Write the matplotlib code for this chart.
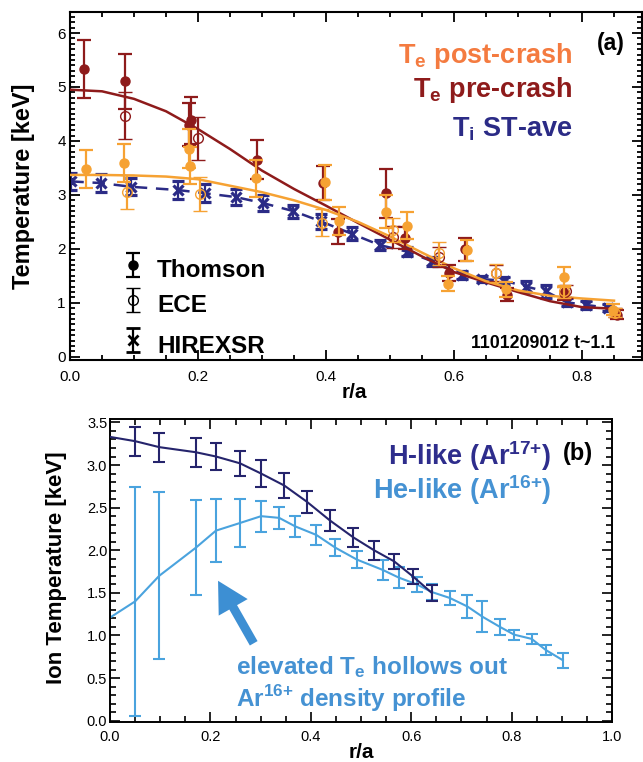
import numpy as np
import matplotlib
matplotlib.use('Agg')
import matplotlib.pyplot as plt
from matplotlib.ticker import MultipleLocator

plt.rcParams['font.family'] = ['Liberation Sans', 'DejaVu Sans']
plt.rcParams['mathtext.fontset'] = 'custom'
plt.rcParams['mathtext.rm'] = 'Liberation Sans'
plt.rcParams['mathtext.bf'] = 'Liberation Sans:bold'

###############################################################
#   (a) perfiles de temperatura, shot 1101209012
###############################################################

# ajuste Te (pre / post crash)
r_fit = [0.0, 0.05, 0.10, 0.15, 0.20, 0.25, 0.30, 0.35, 0.40, 0.45,
         0.50, 0.55, 0.60, 0.65, 0.70, 0.75, 0.80, 0.85]
te_pre_fit = [4.95, 4.92, 4.78, 4.55, 4.22, 3.85, 3.45, 3.11, 2.80, 2.48,
              2.17, 1.86, 1.57, 1.38, 1.20, 1.03, 0.92, 0.89]
te_post_fit = [3.37, 3.37, 3.36, 3.34, 3.29, 3.17, 3.05, 2.90, 2.72, 2.50,
               2.23, 1.93, 1.64, 1.40, 1.23, 1.13, 1.08, 1.04]

# Thomson pre-crash
ts_pre_r = [0.022, 0.086, 0.186, 0.189, 0.292, 0.396, 0.418, 0.494, 0.524,
            0.592, 0.617, 0.683, 0.772, 0.854]
ts_pre_t = [5.33, 5.11, 4.30, 4.38, 3.65, 3.22, 2.32, 3.03, 2.20,
            1.55, 1.99, 1.15, 1.18, 0.78]
ts_pre_e = [0.54, 0.51, 0.40, 0.44, 0.36, 0.31, 0.23, 0.45, 0.20,
            0.15, 0.21, 0.12, 0.12, 0.08]

# ECE pre-crash
ece_pre_r = [0.086, 0.1995, 0.504, 0.577, 0.666, 0.775, 0.852]
ece_pre_t = [4.47, 4.05, 2.22, 1.85, 1.55, 1.21, 0.82]
ece_pre_e = [0.44, 0.40, 0.20, 0.18, 0.15, 0.12, 0.08]

# Thomson post-crash
ts_post_r = [0.0245, 0.085, 0.1865, 0.188, 0.291, 0.399, 0.421, 0.494,
             0.526, 0.590, 0.620, 0.682, 0.772, 0.848]
ts_post_t = [3.48, 3.59, 3.86, 3.54, 3.31, 3.23, 2.51, 2.69,
             2.43, 1.35, 1.97, 1.25, 1.48, 0.87]
ts_post_e = [0.35, 0.35, 0.37, 0.34, 0.34, 0.32, 0.26, 0.30,
             0.25, 0.14, 0.20, 0.14, 0.19, 0.10]

# ECE post-crash
ece_post_r = [0.0895, 0.203, 0.393, 0.504, 0.577, 0.666, 0.772, 0.851]
ece_post_t = [3.05, 3.02, 2.48, 2.35, 1.92, 1.55, 1.21, 0.82]
ece_post_e = [0.31, 0.31, 0.25, 0.22, 0.21, 0.17, 0.12, 0.09]

# Ti HIREXSR (promedio ST)
ti_r = [0.002, 0.048, 0.096, 0.169, 0.211, 0.259, 0.301, 0.349, 0.392,
        0.440, 0.484, 0.526, 0.566, 0.613, 0.643, 0.678, 0.713, 0.744,
        0.776, 0.806, 0.840]
ti_t = [3.25, 3.22, 3.15, 3.09, 3.03, 2.96, 2.85, 2.70, 2.51,
        2.28, 2.07, 1.95, 1.77, 1.52, 1.44, 1.41, 1.30, 1.21,
        1.01, 0.96, 0.91]
ti_e = [0.15, 0.17, 0.16, 0.17, 0.17, 0.15, 0.14, 0.12, 0.14,
        0.12, 0.10, 0.08, 0.08, 0.07, 0.06, 0.07, 0.10, 0.12,
        0.07, 0.07, 0.06]

###############################################################
#   (b) Ti de H-like y He-like
###############################################################

# primer punto = valor en el eje (sin barra de error)
h_r = [0.0, 0.050, 0.098, 0.171, 0.211, 0.259, 0.301, 0.347, 0.392,
       0.438, 0.485, 0.526, 0.566, 0.604, 0.641]
h_t = [3.33, 3.28, 3.21, 3.15, 3.10, 3.02, 2.90, 2.76, 2.57,
       2.35, 2.15, 2.00, 1.87, 1.69, 1.50]
h_e = [0.17, 0.17, 0.17, 0.16, 0.15, 0.16, 0.15, 0.13,
       0.12, 0.11, 0.11, 0.09, 0.09, 0.09]

he_r = [0.0, 0.050, 0.098, 0.171, 0.211, 0.259, 0.301, 0.337, 0.369,
        0.411, 0.449, 0.492, 0.543, 0.575, 0.611, 0.641, 0.677, 0.712,
        0.742, 0.777, 0.805, 0.840, 0.868, 0.902]
he_t = [1.21, 1.40, 1.70, 2.03, 2.23, 2.32, 2.40, 2.38, 2.28,
        2.18, 2.03, 1.89, 1.77, 1.68, 1.60, 1.51, 1.44, 1.34,
        1.22, 1.10, 1.01, 0.96, 0.83, 0.71]
he_e = [1.34, 0.98, 0.56, 0.37, 0.28, 0.18, 0.13, 0.12,
        0.12, 0.10, 0.10, 0.12, 0.12, 0.09, 0.09, 0.08, 0.14,
        0.18, 0.09, 0.06, 0.055, 0.06, 0.09]

c_pre = '#8e1b1b'
c_post = '#f6a233'
c_post_txt = '#f47b40'
c_ti = '#2b2b86'
c_h = '#25246c'
c_h_txt = '#2e2d8c'
c_he = '#4aa3de'
c_he_txt = '#4592d3'

fig = plt.figure(figsize=(6.43, 7.62), dpi=100)
ax1 = fig.add_axes([70/643, 1 - 360/762, 572/643, 348/762])
ax2 = fig.add_axes([110/643, 1 - 722/762, 502/643, 303/762])

eb = dict(capsize=5, capthick=1.6, elinewidth=1.6, linestyle='none')

# ---- panel (a)
ax1.plot(r_fit, te_pre_fit, color=c_pre, lw=1.8, zorder=3)
ax1.plot(r_fit, te_post_fit, color=c_post, lw=1.8, zorder=3)
ax1.errorbar(ti_r, ti_t, yerr=ti_e, color=c_ti, marker='x', ms=7.5, mew=2.3,
             capsize=4.5, capthick=1.6, elinewidth=1.6, ls=(0, (5, 3.5)), lw=1.8, zorder=2)
ax1.errorbar(ece_pre_r, ece_pre_t, yerr=ece_pre_e, color=c_pre, marker='o', ms=7,
             mfc='none', mew=1.0, zorder=4, **eb)
ax1.errorbar(ts_pre_r, ts_pre_t, yerr=ts_pre_e, color=c_pre, marker='o', ms=6.5,
             zorder=4, **eb)
ax1.errorbar(ece_post_r, ece_post_t, yerr=ece_post_e, color=c_post, marker='o', ms=7,
             mfc='none', mew=1.0, zorder=5, **eb)
ax1.errorbar(ts_post_r, ts_post_t, yerr=ts_post_e, color=c_post, marker='o', ms=6.5,
             zorder=5, **eb)

ax1.set_xlim(0, 572/640)
ax1.set_ylim(-0.06, 6.39)
ax1.xaxis.set_major_locator(MultipleLocator(0.2))
ax1.xaxis.set_minor_locator(MultipleLocator(0.05))
ax1.yaxis.set_major_locator(MultipleLocator(1))
ax1.yaxis.set_minor_locator(MultipleLocator(0.1))
ax1.tick_params(which='both', direction='in', top=True, right=True, width=1.3)
ax1.tick_params(which='major', length=7)
ax1.tick_params(which='minor', length=3.5)
ax1.tick_params(axis='x', labelsize=11, pad=7)
ax1.tick_params(axis='y', labelsize=11, pad=3)
ax1.xaxis.set_major_formatter(plt.FormatStrFormatter('%.1f'))
for s in ax1.spines.values():
    s.set_linewidth(1.5)
ax1.set_xlabel('r/a', fontsize=15, fontweight='bold')
ax1.xaxis.set_label_coords(0.498, -0.066)
ax1.set_ylabel('Temperature [keV]', fontsize=17, fontweight='bold')
ax1.yaxis.set_label_coords(-0.061, 0.5)

ax1.text(0.97, 0.891, '(a)', transform=ax1.transAxes, ha='right', va='baseline',
         fontsize=16.5, fontweight='bold')
ax1.text(0.879, 0.853, r'$\mathbf{T_e}$ post-crash', transform=ax1.transAxes,
         ha='right', va='baseline', fontsize=19.5, fontweight='bold', color=c_post_txt)
ax1.text(0.879, 0.755, r'$\mathbf{T_e}$ pre-crash', transform=ax1.transAxes,
         ha='right', va='baseline', fontsize=19.5, fontweight='bold', color=c_pre)
ax1.text(0.879, 0.642, r'$\mathbf{T_i}$ ST-ave', transform=ax1.transAxes,
         ha='right', va='baseline', fontsize=19.5, fontweight='bold', color=c_ti)

# leyenda de diagnosticos
diag_names = ['Thomson', 'ECE', 'HIREXSR']
diag_y = [0.273, 0.172, 0.057]
diag_txt_y = [0.239, 0.139, 0.020]
diag_style = [dict(marker='o', ms=6.5), dict(marker='o', ms=7, mfc='none', mew=1.0),
              dict(marker='x', ms=6.5, mew=2.0)]
for name, yy, ty, st in zip(diag_names, diag_y, diag_txt_y, diag_style):
    ax1.errorbar([0.110], [yy], yerr=[0.034], color='k', transform=ax1.transAxes,
                 capsize=5, capthick=1.6, elinewidth=1.6, ls='none', **st)
    ax1.text(0.152, ty, name, transform=ax1.transAxes, fontsize=17.5,
             fontweight='bold', va='baseline')

ax1.text(0.953, 0.034, '1101209012 t~1.1', transform=ax1.transAxes, ha='right',
         va='baseline', fontsize=12.8, fontweight='bold')

# ---- panel (b)
ax2.plot(he_r, he_t, color=c_he, lw=1.5, zorder=2)
ax2.errorbar(he_r[1:], he_t[1:], yerr=he_e, color=c_he, ls='none', capsize=4,
             capthick=1.5, elinewidth=1.5, zorder=2)
ax2.plot(h_r, h_t, color=c_h, lw=1.5, zorder=3)
ax2.errorbar(h_r[1:], h_t[1:], yerr=h_e, color=c_h, ls='none', capsize=4,
             capthick=1.5, elinewidth=1.5, zorder=3)

ax2.annotate('', xy=(0.2125, 1.67), xytext=(0.289, 0.88),
             arrowprops=dict(arrowstyle='simple,head_length=1.1,head_width=1.2,tail_width=0.32',
                             mutation_scale=20, color='#3d8fd3', lw=0))

ax2.set_xlim(0, 1)
ax2.set_ylim(-0.015, 3.54)
ax2.xaxis.set_major_locator(MultipleLocator(0.2))
ax2.xaxis.set_minor_locator(MultipleLocator(0.05))
ax2.yaxis.set_major_locator(MultipleLocator(0.5))
ax2.yaxis.set_minor_locator(MultipleLocator(0.1))
ax2.xaxis.set_major_formatter(plt.FormatStrFormatter('%.1f'))
ax2.yaxis.set_major_formatter(plt.FormatStrFormatter('%.1f'))
ax2.tick_params(which='both', direction='in', top=True, right=True, width=1.2)
ax2.tick_params(which='major', length=7)
ax2.tick_params(which='minor', length=4)
ax2.tick_params(axis='x', labelsize=10.5, pad=6)
ax2.tick_params(axis='y', labelsize=10.5, pad=2)
for s in ax2.spines.values():
    s.set_linewidth(1.4)
ax2.set_xlabel('r/a', fontsize=15, fontweight='bold')
ax2.xaxis.set_label_coords(0.5, -0.07)
ax2.set_ylabel('Ion Temperature [keV]', fontsize=16, fontweight='bold')
ax2.yaxis.set_label_coords(-0.086, 0.51)

ax2.text(0.962, 0.865, '(b)', transform=ax2.transAxes, ha='right', va='baseline',
         fontsize=17, fontweight='bold')
ax2.text(0.880, 0.848, r'H-like (Ar$^{\mathbf{17{+}}}$)', transform=ax2.transAxes,
         ha='right', va='baseline', fontsize=19.5, fontweight='bold', color=c_h_txt)
ax2.text(0.880, 0.737, r'He-like (Ar$^{\mathbf{16{+}}}$)', transform=ax2.transAxes,
         ha='right', va='baseline', fontsize=19.5, fontweight='bold', color=c_he_txt)
ax2.text(0.251, 0.158, r'elevated $\mathbf{T_e}$ hollows out', transform=ax2.transAxes,
         va='baseline', fontsize=17.5, fontweight='bold', color=c_he_txt)
ax2.text(0.251, 0.050, r'Ar$^{\mathbf{16{+}}}$ density profile', transform=ax2.transAxes,
         va='baseline', fontsize=17.5, fontweight='bold', color=c_he_txt)

fig.savefig('out.png', dpi=100)
